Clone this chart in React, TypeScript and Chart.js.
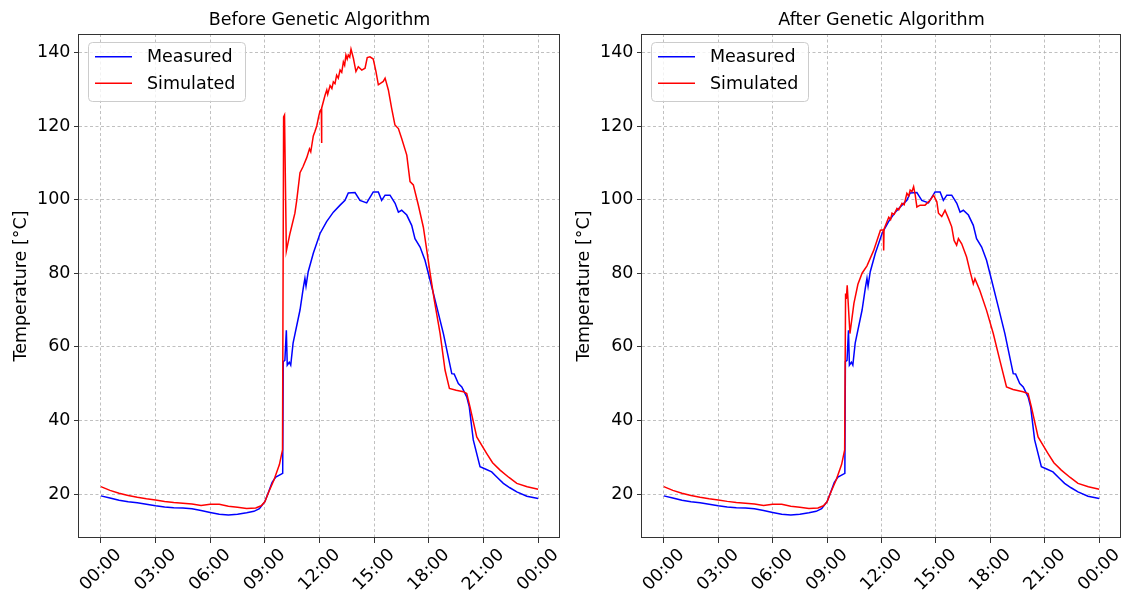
import React, { useEffect, useRef } from 'react';
import { Chart, registerables } from 'chart.js';

Chart.register(...registerables);

const FONT_FAMILY = '"DejaVu Sans", "Liberation Sans", sans-serif';
const FONT_SIZE = 17.5;

// ---- axis ticks ----
const hourTicks = [0, 3, 6, 9, 12, 15, 18, 21, 24];
const hourTickLabels = ['00:00', '03:00', '06:00', '09:00', '12:00', '15:00', '18:00', '21:00', '00:00'];
const tempTicks = [20, 40, 60, 80, 100, 120, 140];

const seriesNames = ['Measured', 'Simulated'];
const panelTitles = ['Before Genetic Algorithm', 'After Genetic Algorithm'];

// ---- measured temperature (same in both panels) ----
const measuredHours = [
  0, 0.5, 1, 1.5, 2, 2.5, 3, 3.5, 4, 4.5, 5, 5.5, 6, 6.5, 7, 7.5, 8, 8.4, 8.7, 9,
  9.2, 9.4, 9.6, 9.98, 10.01, 10.1, 10.18, 10.23, 10.34, 10.42, 10.55, 10.93, 11.11, 11.2, 11.26, 11.38, 11.66, 12.03, 12.39, 12.76,
  13.13, 13.4, 13.58, 13.95, 14.22, 14.59, 14.78, 14.95, 15.23, 15.41, 15.6, 15.87, 16.15, 16.33, 16.51, 16.79, 17.06, 17.24, 17.52, 17.79,
  18.07, 18.44, 18.8, 19.26, 19.39, 19.62, 19.81, 20.08, 20.22, 20.44, 20.81, 21.1, 21.45, 21.8, 22.09, 22.45, 22.83, 23.38, 24,
];
const measuredTemp = [
  19.5, 18.9, 18.3, 17.9, 17.6, 17.2, 16.8, 16.5, 16.3, 16.2, 16.0, 15.5, 15.0, 14.5, 14.3, 14.5, 14.9, 15.3, 16.0, 17.9,
  20.5, 23.2, 24.6, 25.6, 56, 56.3, 64.5, 55.0, 55.8, 55.0, 61, 70, 76, 78.6, 76.5, 80.4, 85.4, 90.8, 94, 96.6,
  98.5, 99.8, 101.8, 101.9, 99.8, 99.1, 100.7, 102.1, 102.1, 99.8, 101.2, 101.2, 99, 96.6, 97.1, 95.8, 93, 89.4, 87.1, 83.5,
  78.1, 70.8, 63.6, 52.7, 52.6, 50, 49.1, 46.4, 43.7, 34.7, 27.4, 26.8, 26, 24.3, 22.9, 21.7, 20.6, 19.4, 18.8,
];

// ---- simulated, before GA ----
const simBeforeHours = [
  0, 0.5, 1, 1.5, 2, 2.5, 3, 3.5, 4, 4.5, 5, 5.5, 6, 6.5, 7, 7.5, 8, 8.5, 8.8, 9.0,
  9.2, 9.5, 9.8, 9.97, 10.03, 10.08, 10.18, 10.38, 10.65, 10.75, 10.93, 11.1, 11.3, 11.45, 11.52, 11.66, 11.75, 11.85, 11.95, 12.03,
  12.1, 12.11, 12.13, 12.3, 12.4, 12.45, 12.58, 12.68, 12.76, 12.85, 12.94, 13.03, 13.13, 13.22, 13.31, 13.38, 13.45, 13.52, 13.58, 13.66,
  13.73, 13.86, 14.0, 14.13, 14.32, 14.5, 14.62, 14.77, 14.95, 15.1, 15.23, 15.5, 15.6, 15.78, 15.96, 16.14, 16.33, 16.51, 16.79, 16.97,
  17.15, 17.42, 17.7, 17.89, 18.07, 18.3, 18.62, 18.89, 19.13, 19.5, 19.9, 20.08, 20.26, 20.63, 21.18, 21.5, 21.91, 22.4, 22.83, 23.4, 24,
];
const simBeforeTemp = [
  22, 21, 20.2, 19.6, 19.1, 18.7, 18.4, 18.0, 17.7, 17.5, 17.3, 16.9, 17.2, 17.2, 16.7, 16.4, 16.1, 16.2, 16.8, 17.9,
  20.4, 23.8, 28, 32, 122.5, 123, 86, 90.8, 96.3, 99.8, 107.3, 109, 111.4, 113.8, 113, 117.3, 118.5, 120, 122.5, 124.1,
  124.6, 115.4, 124.9, 128.3, 129.8, 128.6, 131, 130.2, 132, 131.5, 133.8, 133, 135.2, 134.6, 137.4, 136.5, 139.3, 138.2, 139.3, 138.7,
  140.9, 138.4, 134.8, 136.1, 135.2, 135.7, 138.6, 138.8, 138.2, 134.8, 131.2, 132.1, 133, 129.8, 124.8, 120.3, 119.3, 116.6, 112.1, 104.9,
  104, 98.6, 92.5, 86.2, 80, 72.7, 63.6, 53.7, 48.7, 48.2, 47.8, 47.3, 43.7, 35.5, 31, 28.5, 26.5, 24.5, 22.9, 22, 21.3,
];

// ---- simulated, after GA ----
const simAfterHours = [
  0, 0.5, 1, 1.5, 2, 2.5, 3, 3.5, 4, 4.5, 5, 5.5, 6, 6.5, 7, 7.5, 8, 8.5, 8.8, 9.0,
  9.2, 9.5, 9.8, 9.97, 10.02, 10.06, 10.11, 10.26, 10.48, 10.7, 10.93, 11.2, 11.57, 11.94, 12.1, 12.12, 12.14, 12.3, 12.4, 12.5,
  12.58, 12.7, 12.85, 12.95, 13.13, 13.25, 13.4, 13.5, 13.58, 13.68, 13.77, 13.86, 13.95, 14.13, 14.4, 14.68, 14.87, 15.05, 15.14, 15.32,
  15.5, 15.69, 15.87, 16.0, 16.14, 16.24, 16.42, 16.69, 16.87, 17.06, 17.15, 17.42, 17.79, 18.16, 18.52, 18.89, 19.25, 19.8, 20.08, 20.26,
  20.63, 21.18, 21.5, 21.91, 22.4, 22.83, 23.4, 24,
];
const simAfterTemp = [
  22, 21, 20.2, 19.6, 19.1, 18.7, 18.4, 18.0, 17.7, 17.5, 17.3, 16.9, 17.2, 17.2, 16.7, 16.4, 16.1, 16.2, 16.8, 17.9,
  20.4, 23.8, 28, 32, 74.5, 73, 76.7, 63.6, 71.8, 77, 80, 82, 86.2, 91.7, 91.8, 86.2, 92, 94, 95.2, 94.6,
  96.3, 96, 97.6, 97.2, 99, 98.6, 101.7, 101, 102.6, 102.2, 103.5, 101.2, 98, 98.5, 98.5, 99.8, 101.2, 99.4, 96.3, 95.4,
  97.1, 94.9, 92.6, 88.9, 87.6, 89.4, 88, 84.4, 80.7, 77.1, 78.5, 75.3, 69.9, 63.6, 56.4, 49.1, 48.4, 47.8, 47.3, 43.7,
  35.5, 31, 28.5, 26.5, 24.5, 22.9, 22, 21.3,
];

const toPoints = (hs: number[], vs: number[]) => hs.map((h, i) => ({ x: h, y: vs[i] }));

type PanelProps = { title: string; simHours: number[]; simTemp: number[]; padRight: number; left: number };

function Panel({ title, simHours, simTemp, padRight, left }: PanelProps) {
  const ref = useRef<HTMLCanvasElement | null>(null);

  useEffect(() => {
    const canvas = ref.current;
    if (!canvas) return;

    const overlay = {
      id: 'mplOverlay',
      afterDraw(chart: any) {
        const { ctx, chartArea: a, scales } = chart;
        const xs = scales.x;
        ctx.save();
        // rotated x tick labels (centred under tick)
        ctx.fillStyle = '#000';
        ctx.font = `${FONT_SIZE}px ${FONT_FAMILY}`;
        ctx.textAlign = 'center';
        ctx.textBaseline = 'middle';
        hourTicks.forEach((h, i) => {
          const px = xs.getPixelForValue(h);
          ctx.save();
          ctx.translate(px, a.bottom + 32);
          ctx.rotate(-Math.PI / 4);
          ctx.fillText(hourTickLabels[i], 0, 0);
          ctx.restore();
        });
        // frame
        ctx.strokeStyle = '#333';
        ctx.lineWidth = 1;
        ctx.strokeRect(Math.round(a.left) - 0.5, Math.round(a.top) + 0.5, Math.round(a.width), Math.round(a.height) - 1);
        // legend
        const lx = a.left + 9.5;
        const ly = a.top + 8.5;
        const lw = 157;
        const lh = 59;
        ctx.beginPath();
        if ((ctx as any).roundRect) (ctx as any).roundRect(lx, ly, lw, lh, 4);
        else ctx.rect(lx, ly, lw, lh);
        ctx.fillStyle = 'rgba(255,255,255,0.8)';
        ctx.fill();
        ctx.strokeStyle = '#cccccc';
        ctx.lineWidth = 1;
        ctx.stroke();
        const entries = [
          { name: seriesNames[0], color: 'blue', dy: 22.7 },
          { name: seriesNames[1], color: 'red', dy: 49.3 },
        ];
        entries.forEach((e) => {
          const y = a.top + e.dy;
          ctx.beginPath();
          ctx.strokeStyle = e.color;
          ctx.lineWidth = 1.5;
          ctx.moveTo(a.left + 16, y);
          ctx.lineTo(a.left + 53, y);
          ctx.stroke();
          ctx.fillStyle = '#000';
          ctx.textAlign = 'left';
          ctx.textBaseline = 'middle';
          ctx.fillText(e.name, a.left + 68, y + 1);
        });
        ctx.restore();
      },
    };

    const gridCommon = {
      color: '#b0b0b0',
      lineWidth: 0.8,
      tickColor: '#333',
      tickLength: 5,
      tickWidth: 1,
      tickBorderDash: [],
    };

    const chart = new Chart(canvas, {
      type: 'line',
      data: {
        datasets: [
          {
            label: seriesNames[0],
            data: toPoints(measuredHours, measuredTemp),
            borderColor: 'blue',
            backgroundColor: 'blue',
            borderWidth: 1.5,
            pointRadius: 0,
            tension: 0,
            order: 2,
          },
          {
            label: seriesNames[1],
            data: toPoints(simHours, simTemp),
            borderColor: 'red',
            backgroundColor: 'red',
            borderWidth: 1.5,
            pointRadius: 0,
            tension: 0,
            order: 1,
          },
        ],
      },
      options: {
        animation: false,
        responsive: false,
        events: [],
        layout: { padding: { left: 0, right: padRight, top: 0, bottom: 0 } },
        plugins: {
          legend: { display: false },
          tooltip: { enabled: false },
          title: {
            display: true,
            text: title,
            fullSize: false,
            color: '#000',
            font: { family: FONT_FAMILY, size: FONT_SIZE, weight: 'normal' as any },
            padding: { top: 9.5, bottom: 3.5 },
          },
        },
        scales: {
          x: {
            type: 'linear',
            min: -1.2,
            max: 25.2,
            afterBuildTicks: (s: any) => {
              s.ticks = hourTicks.map((v) => ({ value: v }));
            },
            afterFit: (s: any) => {
              s.height = 57;
            },
            ticks: { display: false },
            grid: gridCommon,
            border: { display: false, dash: [3, 2.5] },
          },
          y: {
            type: 'linear',
            min: 8.05,
            max: 145,
            afterBuildTicks: (s: any) => {
              s.ticks = tempTicks.map((v) => ({ value: v }));
            },
            afterFit: (s: any) => {
              s.width = 79;
            },
            ticks: {
              color: '#000',
              padding: 3.5,
              font: { family: FONT_FAMILY, size: FONT_SIZE },
            },
            grid: gridCommon,
            border: { display: false, dash: [3, 2.5] },
            title: {
              display: true,
              text: 'Temperature [°C]',
              color: '#000',
              font: { family: FONT_FAMILY, size: FONT_SIZE },
              padding: { top: 11, bottom: 0 },
            },
          },
        },
      } as any,
      plugins: [overlay],
    });

    return () => chart.destroy();
  }, [title, simHours, simTemp, padRight]);

  return (
    <canvas
      ref={ref}
      width={563}
      height={595}
      style={{ position: 'absolute', left, top: 0, width: 563, height: 595, display: 'block' }}
    />
  );
}

export default function App() {
  return (
    <div style={{ position: 'fixed', left: 0, top: 0, width: 1126, height: 595, background: '#fff', overflow: 'hidden' }}>
      <Panel title={panelTitles[0]} simHours={simBeforeHours} simTemp={simBeforeTemp} padRight={3} left={0} />
      <Panel title={panelTitles[1]} simHours={simAfterHours} simTemp={simAfterTemp} padRight={5} left={563} />
    </div>
  );
}
